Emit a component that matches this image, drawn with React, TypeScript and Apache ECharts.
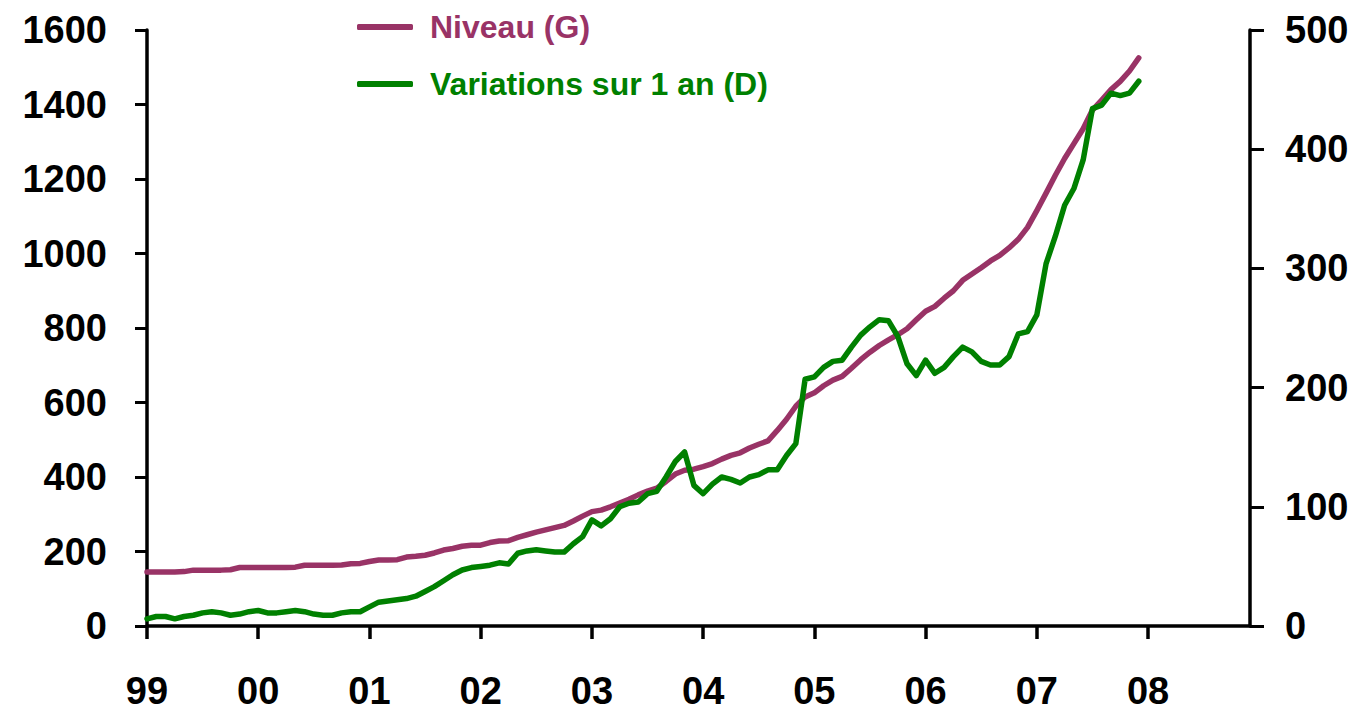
import React, { useEffect, useRef } from "react";
import * as echarts from "echarts";

const years = ["99", "00", "01", "02", "03", "04", "05", "06", "07", "08"];
const monthsPerYear = 12;

const niveau = [
  145, 145, 145, 145, 146, 150, 150, 150, 150, 151, 157, 157,
  157, 157, 157, 157, 158, 163, 163, 163, 163, 164, 167, 168,
  173, 177, 177, 178, 185, 187, 190, 196, 204, 208, 214, 217,
  217, 224, 228, 229, 238, 245, 252, 258, 264, 270, 282, 295,
  307, 311, 320, 330, 340, 352, 362, 370, 388, 408, 418, 421,
  428, 436, 448, 458, 465, 478, 488, 497, 525, 555, 590, 615,
  626, 645, 660, 670, 692, 715, 735, 753, 768, 782, 798, 822,
  845, 858, 880, 900, 928, 945, 962, 980, 995, 1015, 1038, 1070,
  1115, 1162, 1210, 1255, 1295, 1335, 1385, 1412, 1440, 1462, 1490, 1525,
];

const variations = [
  6, 8, 8, 6, 8, 9, 11, 12, 11, 9, 10, 12,
  13, 11, 11, 12, 13, 12, 10, 9, 9, 11, 12, 12,
  16, 20, 21, 22, 23, 25, 29, 33, 38, 43, 47, 49,
  50, 51, 53, 52, 61, 63, 64, 63, 62, 62, 69, 75,
  89, 84, 90, 100, 103, 104, 111, 113, 125, 138, 146, 118,
  111, 119, 125, 123, 120, 125, 127, 131, 131, 143, 153, 207,
  209, 217, 222, 223, 234, 244, 251, 257, 256, 243, 220, 210,
  223, 212, 217, 226, 234, 230, 222, 219, 219, 226, 245, 247,
  261, 304, 327, 353, 367, 391, 434, 437, 447, 445, 447, 457,
];

const leftTicks = { min: 0, max: 1600, interval: 200 };
const rightTicks = { min: 0, max: 500, interval: 100 };

const seriesNames = ["Niveau (G)", "Variations sur 1 an (D)"];
const colors = ["#993366", "#008000"];

const categories: string[] = [];
years.forEach((y) => {
  for (let m = 0; m < monthsPerYear; m++) categories.push(y + "-" + (m + 1));
});

const FONT = '"Liberation Sans", Arial, sans-serif';

export default function App() {
  const ref = useRef<HTMLDivElement>(null);
  useEffect(() => {
    if (!ref.current) return;
    const chart = echarts.init(ref.current, null, { renderer: "svg" });
    const axisLineStyle = { color: "#000", width: 3.5 };
    const labelStyle = {
      color: "#000",
      fontFamily: FONT,
      fontWeight: "bold" as const,
      fontSize: 38,
    };
    const plain = (v: number) => String(v);
    chart.setOption({
      animation: false,
      backgroundColor: "#fff",
      grid: { left: 147, right: 112, top: 30, bottom: 86, containLabel: false },
      legend: {
        orient: "vertical",
        left: 352,
        top: 6,
        itemWidth: 56,
        itemHeight: 6,
        itemGap: 25,
        icon: "roundRect",
        data: seriesNames.map((n, i) => ({
          name: n,
          textStyle: { color: colors[i] },
        })),
        textStyle: {
          fontFamily: FONT,
          fontWeight: "bold",
          fontSize: 32,
          padding: [0, 0, 0, 12],
        },
      },
      xAxis: {
        type: "category",
        data: categories,
        boundaryGap: false,
        axisLine: { show: true, lineStyle: axisLineStyle },
        axisTick: {
          show: true,
          interval: 11,
          length: 13,
          inside: false,
          lineStyle: { color: "#000", width: 3.5 },
        },
        axisLabel: {
          ...labelStyle,
          interval: 11,
          margin: 46,
          formatter: (v: string) => v.split("-")[0],
        },
        splitLine: { show: false },
      },
      yAxis: [
        {
          type: "value",
          position: "left",
          ...leftTicks,
          axisLine: { show: true, lineStyle: axisLineStyle },
          axisTick: { show: true, length: 12, lineStyle: { color: "#000", width: 3 } },
          axisLabel: { ...labelStyle, margin: 40, formatter: plain },
          splitLine: { show: false },
        },
        {
          type: "value",
          position: "right",
          ...rightTicks,
          axisLine: { show: true, lineStyle: axisLineStyle },
          axisTick: { show: true, length: 14, lineStyle: { color: "#000", width: 3 } },
          axisLabel: { ...labelStyle, margin: 35, formatter: plain },
          splitLine: { show: false },
        },
      ],
      series: [
        {
          name: seriesNames[0],
          type: "line",
          yAxisIndex: 0,
          data: niveau,
          showSymbol: false,
          symbol: "none",
          lineStyle: { color: colors[0], width: 5.5, join: "round", cap: "round" },
          itemStyle: { color: colors[0] },
          z: 2,
        },
        {
          name: seriesNames[1],
          type: "line",
          yAxisIndex: 1,
          data: variations,
          showSymbol: false,
          symbol: "none",
          lineStyle: { color: colors[1], width: 5.5, join: "round", cap: "round" },
          itemStyle: { color: colors[1] },
          z: 3,
        },
      ],
    });
    return () => chart.dispose();
  }, []);
  return (
    <div
      ref={ref}
      style={{ position: "fixed", left: 0, top: 0, width: 1362, height: 712, background: "#fff" }}
    />
  );
}
